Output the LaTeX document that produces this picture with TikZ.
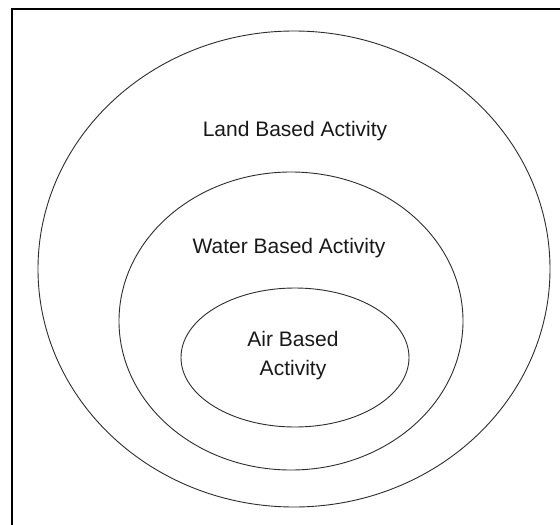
\documentclass[tikz,border=0pt]{standalone}
\usepackage{fontspec}
\setmainfont{Liberation Sans}
\usepackage{tikz}
\usetikzlibrary{shapes.geometric, positioning}
\definecolor{myline}{RGB}{45,45,45}
\definecolor{mytext}{RGB}{25,25,25}
\tikzset{
  zone/.style={ellipse, draw=myline, line width=0.9pt, inner sep=0pt},
  lbl/.style={font=\fontsize{21}{29}\selectfont, text=mytext, align=center, inner sep=0pt},
  frame/.style={draw=black, line width=1.6pt}
}

\begin{document}
\begin{tikzpicture}[x=1pt, y=-1pt]
  \useasboundingbox (0,0) rectangle (560,525);
  \fill[white] (0,0) rectangle (560,525);
  \draw[frame] (12,525) -- (12,9) -- (560,9);

  \node[zone, minimum width=512pt, minimum height=476pt] (land) at (294,269) {};
  \node[zone, minimum width=344pt, minimum height=298pt] (water) at (291,321) {};
  \node[zone, minimum width=228pt, minimum height=139pt] (air) at (295,357.5) {};

  \node[lbl] (landtxt) at (295,131) {Land Based Activity};
  \node[lbl] (watertxt) at (289,248) {Water Based Activity};
  \node[lbl] (airtxt) at (293,356) {Air Based\\Activity};
\end{tikzpicture}
\end{document}
